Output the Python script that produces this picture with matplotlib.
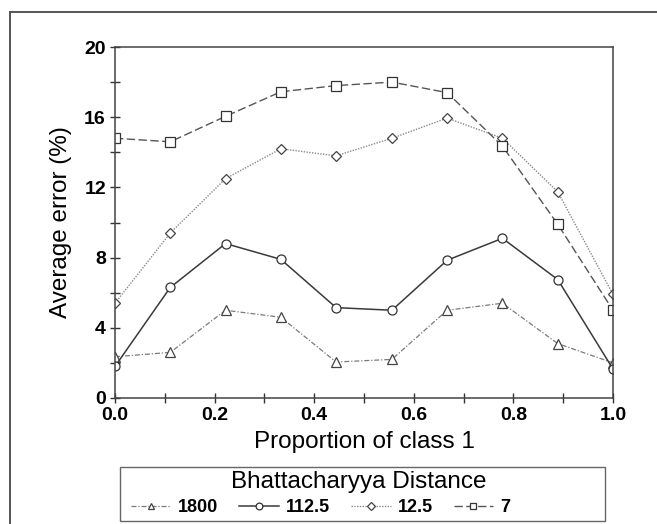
import matplotlib
matplotlib.use("Agg")
import matplotlib.pyplot as plt
from matplotlib.lines import Line2D
from matplotlib.patches import Rectangle
from matplotlib.ticker import MultipleLocator

plt.rcParams['font.family'] = ['Liberation Sans', 'DejaVu Sans']

# proportion of class 1 (ten equally spaced points)
proportion = [0.0, 0.111, 0.222, 0.333, 0.444, 0.556, 0.667, 0.778, 0.889, 1.0]

# average error (%) per Bhattacharyya distance
err_1800 = [2.35, 2.6, 5.0, 4.6, 2.05, 2.2, 5.0, 5.4, 3.1, 2.0]
err_112_5 = [1.8, 6.3, 8.8, 7.9, 5.15, 5.0, 7.85, 9.1, 6.75, 1.65]
err_12_5 = [5.4, 9.4, 12.5, 14.2, 13.8, 14.8, 15.95, 14.8, 11.75, 5.9]
err_7 = [14.8, 14.6, 16.05, 17.45, 17.8, 18.0, 17.4, 14.35, 9.9, 5.0]

labels = ['1800', '112.5', '12.5', '7']

W, H = 657, 524
fig = plt.figure(figsize=(W / 100, H / 100), dpi=100)
ax = fig.add_axes([115 / W, 1 - 398 / H, (613 - 115) / W, (398 - 47) / H])

mk = dict(markerfacecolor='white', markersize=6.5, markeredgewidth=0.9)
ax.plot(proportion, err_1800, linestyle=(0, (4, 1.5, 1, 1.5)), color='#7a7a7a',
        lw=0.9, marker='^', markeredgecolor='#444444', label=labels[0], **mk)
ax.plot(proportion, err_112_5, linestyle='-', color='#3a3a3a',
        lw=1.1, marker='o', markeredgecolor='#333333', label=labels[1], **mk)
ax.plot(proportion, err_12_5, linestyle=(0, (1, 1)), color='#8a8a8a',
        lw=1.0, marker='D', markeredgecolor='#444444', label=labels[2],
        markerfacecolor='white', markersize=5.2, markeredgewidth=0.9)
ax.plot(proportion, err_7, linestyle=(0, (6, 2.5)), color='#555555',
        lw=1.0, marker='s', markeredgecolor='#333333', label=labels[3], **mk)

ax.set_xlim(0, 1.0)
ax.set_ylim(0, 20)
ax.xaxis.set_major_locator(MultipleLocator(0.2))
ax.xaxis.set_minor_locator(MultipleLocator(0.1))
ax.yaxis.set_major_locator(MultipleLocator(4))
ax.yaxis.set_minor_locator(MultipleLocator(2))
ax.xaxis.set_major_formatter(plt.FuncFormatter(lambda v, p: f"{v:.1f}"))

ax.tick_params(which='both', direction='inout', length=7, width=1.0, color='#333333',
               labelsize=14, pad=3)
for lab in ax.get_xticklabels() + ax.get_yticklabels():
    lab.set_fontweight('bold')
for sp in ax.spines.values():
    sp.set_color('#444444')
    sp.set_linewidth(1.1)

ax.set_xlabel('Proportion of class 1', fontsize=17.5, labelpad=5)
ax.set_ylabel('Average error (%)', fontsize=17.5, labelpad=9)

# legend box with its title, entries laid out in one row underneath
fig.add_artist(Rectangle((120 / W, 1 - 521 / H), (605 - 120) / W, (521 - 467) / H,
                         transform=fig.transFigure, fill=False,
                         edgecolor='#666666', lw=1.0))
fig.text(359 / W, 1 - 482 / H, 'Bhattacharyya Distance', fontsize=17.5,
         ha='center', va='center')
leg = fig.legend(loc='center left', bbox_to_anchor=(131 / W, 1 - 508 / H),
                 ncol=4, frameon=False,
                 prop={'weight': 'bold', 'size': 13},
                 handlelength=2.2, columnspacing=1.15, borderpad=0,
                 borderaxespad=0, handletextpad=0.4, markerscale=0.75)

# outer page border, top and left
fig.add_artist(Line2D([10 / W, 1.0], [1 - 12 / H, 1 - 12 / H], color='#555555', lw=1.4,
                      transform=fig.transFigure))
fig.add_artist(Line2D([10 / W, 10 / W], [1 - 12 / H, 0], color='#555555', lw=1.4,
                      transform=fig.transFigure))

fig.savefig('out.png', dpi=100)
